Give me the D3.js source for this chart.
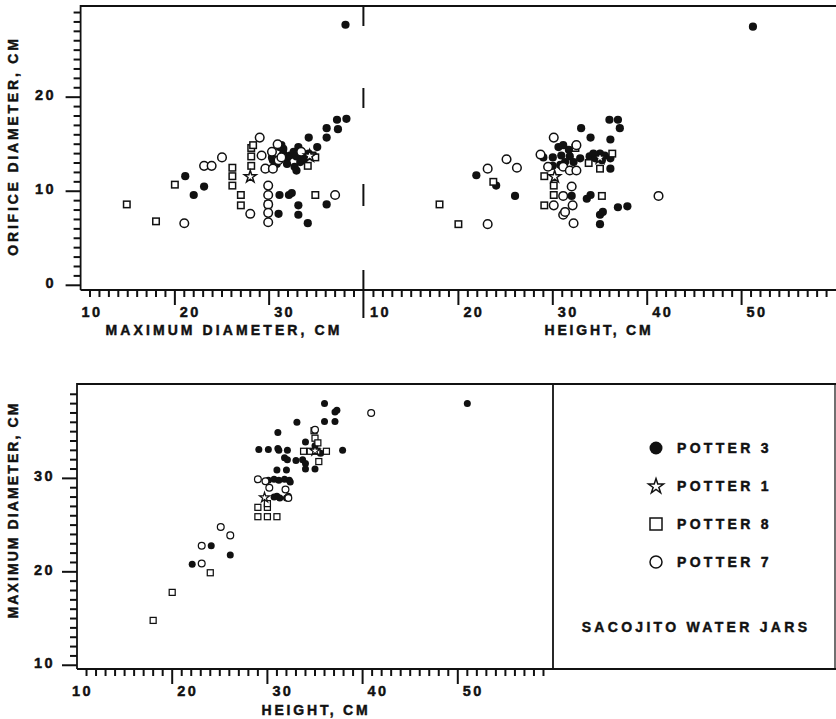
<!DOCTYPE html>
<html><head><meta charset="utf-8">
<script src="https://cdn.jsdelivr.net/npm/d3@7"></script>
<style>body{margin:0;background:#fff}</style>
</head><body><svg id="c" width="836" height="719"></svg>
<script>
// ---------------- DATA ----------------
const potters = ["POTTER 3", "POTTER 1", "POTTER 8", "POTTER 7"];
const chartTitle = "SACOJITO WATER JARS";
const xTitleTopLeft = "MAXIMUM DIAMETER, CM";
const xTitleTopRight = "HEIGHT, CM";
const yTitleTop = "ORIFICE DIAMETER, CM";
const xTitleBottom = "HEIGHT, CM";
const yTitleBottom = "MAXIMUM DIAMETER, CM";
const xTicksTopLeft = [10, 20, 30];
const xTicksTopRight = [10, 20, 30, 40, 50];
const yTicksTop = [0, 10, 20];
const xTicksBottom = [10, 20, 30, 40, 50];
const yTicksBottom = [10, 20, 30];

// Panel A: maximum diameter (x) vs orifice diameter (y)
const diamOrifice_P3 = [[38.1,27.7],[37.2,17.6],[38.2,17.7],[36.1,16.7],[37.3,16.6],[36.1,15.7],[34.2,15.7],[35.1,14.7],
 [30.4,13.3],[31.3,14.9],[31.5,14.0],[31.9,13.5],[32.2,13.8],[32.6,14.2],[32.9,13.7],[33.1,14.7],[33.3,13.1],[33.6,13.8],
 [33.8,13.5],[34.2,14.0],[34.5,13.7],[32.7,12.6],[32.9,12.2],[31.9,12.9],[30.8,12.9],[31.1,14.7],[31.5,14.5],[30.3,13.6],
 [21.1,11.6],[23.1,10.5],[22.0,9.6],[31.1,9.6],[32.1,9.6],[32.4,9.8],[33.1,8.5],[36.1,8.6],[31.0,7.6],[33.1,7.5],[34.1,6.6]];
const diamOrifice_P1 = [[28.0,11.6],[34.3,13.8]];
const diamOrifice_P8 = [[14.9,8.6],[18.0,6.8],[20.0,10.7],[26.1,12.5],[26.1,11.6],[26.1,10.6],[27.0,9.6],[27.0,8.5],
 [28.1,14.6],[28.3,14.9],[28.1,13.7],[28.1,12.7],[29.9,8.6],[34.9,9.6],[34.1,12.7],[34.6,13.8],[34.9,13.6]];
const diamOrifice_P7 = [[21.0,6.6],[23.1,12.7],[23.9,12.7],[25.0,13.6],[29.0,15.7],[28.0,7.6],[29.9,10.6],[29.9,9.6],
 [29.9,8.6],[29.9,7.7],[29.9,6.7],[37.0,9.6],[29.2,13.8],[30.3,14.2],[31.0,13.3],[29.6,12.4],[30.4,12.4],[30.9,15.0],
 [31.3,13.6],[33.4,14.2]];

// Panel B: height (x) vs orifice diameter (y)
const heightOrifice_P3 = [[51.2,27.5],[36.0,17.6],[36.9,17.6],[37.1,16.7],[33.0,16.7],[34.0,15.7],[36.1,15.5],[36.1,12.4],
 [29.0,13.6],[30.0,13.6],[30.6,14.7],[31.1,14.9],[31.7,14.4],[30.9,13.8],[31.8,13.7],[31.3,13.1],[32.2,13.1],[30.8,12.8],
 [32.9,13.5],[33.9,13.7],[34.5,13.5],[35.0,14.0],[35.5,13.8],[35.2,13.3],[36.1,13.5],[34.3,14.0],[30.0,12.7],
 [21.9,11.7],[24.0,10.6],[26.0,9.5],[32.0,9.5],[33.6,9.2],[34.0,9.6],[35.0,7.5],[35.3,7.8],[35.0,6.5],[36.9,8.3],[37.9,8.4]];
const heightOrifice_P1 = [[30.2,11.6],[35.0,13.6]];
const heightOrifice_P8 = [[18.0,8.6],[20.0,6.5],[23.7,11.0],[29.1,11.6],[30.1,10.6],[30.1,9.6],[29.1,8.5],[35.2,9.5],
 [36.3,14.0],[33.8,13.0],[35.0,12.4],[32.4,14.6]];
const heightOrifice_P7 = [[23.1,6.5],[23.1,12.4],[25.1,13.4],[26.2,12.5],[28.7,13.9],[30.1,15.7],[29.5,12.6],[31.1,12.6],
 [31.8,12.2],[32.5,12.2],[32.5,14.9],[32.0,10.5],[31.1,9.5],[30.1,8.5],[32.1,8.5],[31.1,7.5],[31.3,7.8],[32.2,6.6],[41.2,9.5]];

// Panel C: height (x) vs maximum diameter (y)
const heightDiam_P3 = [[51.0,38.0],[36.0,38.0],[37.1,37.1],[37.3,37.3],[36.0,36.1],[37.1,36.1],[33.1,36.0],[31.1,34.9],
 [29.1,33.1],[30.1,33.1],[31.1,33.2],[31.2,33.0],[32.1,33.0],[37.9,33.0],[34.0,33.9],
 [31.8,32.2],[32.1,32.0],[33.0,31.9],[33.7,32.0],[34.0,31.6],[34.0,31.0],[35.0,31.0],
 [31.0,30.9],[32.0,30.9],[30.1,29.8],[30.7,29.9],[31.2,29.8],[31.8,29.9],[32.3,29.8],[32.4,29.6],
 [31.0,28.1],[31.3,27.9],[32.0,27.9],[32.2,28.1],[30.7,28.0],
 [24.1,22.8],[22.1,20.8],[26.1,21.8],[35.0,33.5],[35.6,32.7]];
const heightDiam_P1 = [[29.7,28.0],[35.0,33.0]];
const heightDiam_P8 = [[18.0,14.8],[20.0,17.8],[24.0,19.9],[29.0,26.9],[30.0,26.9],[30.0,27.3],[29.0,25.9],[30.0,25.9],
 [31.0,25.9],[33.8,32.9],[34.5,32.9],[35.2,32.9],[36.2,32.9],[34.9,35.1],[35.0,34.3],[35.3,33.8],[35.4,31.8]];
const heightDiam_P7 = [[40.9,37.0],[35.0,35.2],[29.0,29.9],[29.8,29.7],[30.2,29.0],[31.9,28.8],[32.2,27.9],[25.1,24.8],
 [26.1,23.9],[23.1,22.8],[23.1,20.9]];

// ---------------- DRAWING ----------------
const svg = d3.select("#c");
const FONT = "'Liberation Sans', Arial, Helvetica, sans-serif";
const INK = "#111111";

const xL = d3.scaleLinear().domain([10, 40]).range([80.6, 363.4]);
const xR = d3.scaleLinear().domain([10, 60]).range([364, 836]);
const yT = d3.scaleLinear().domain([-0.5, 29.8]).range([290, 5]);
const xB = d3.scaleLinear().domain([10, 60]).range([77, 553]);
const yB = d3.scaleLinear().domain([9.6, 40.1]).range([669, 384]);

function rule(x1, y1, x2, y2, w) {
  svg.append("line").attr("x1", x1).attr("y1", y1).attr("x2", x2).attr("y2", y2)
    .attr("stroke", INK).attr("stroke-width", w || 1.8);
}

function boldText(sel, size, spacing) {
  return sel.attr("font-family", FONT).attr("font-weight", "bold").attr("font-size", size)
    .attr("letter-spacing", spacing + "px").attr("fill", INK)
    .attr("stroke", INK).attr("stroke-width", 0.45);
}

// ---- Frames
rule(80.6, 6, 836, 6, 1.8);
rule(80.6, 5, 80.6, 290, 1.8);
rule(80.6, 290, 836, 290, 1.8);
[[6, 26], [88, 108], [184, 206], [270, 318]].forEach(s => rule(xL(40), s[0], xL(40), s[1], 2));
rule(77, 384, 836, 384, 1.8);
rule(77, 383, 77, 669, 1.8);
rule(77, 669, 836, 669, 1.8);
rule(553, 384, 553, 669, 1.8);
rule(835, 384, 835, 669, 1.2);

// ---- Ticks (minor every 1 cm, major every 10 cm)
const TW = 2;
d3.range(11, 40).forEach(v => { const p = xL(v); rule(p, 290, p, 290 + (v % 10 === 0 ? 15 : 7), TW); });
d3.range(11, 60).forEach(v => { const p = xR(v); rule(p, 290, p, 290 + (v % 10 === 0 ? 15 : 7), TW); });
d3.range(0, 30).forEach(v => { const p = yT(v); rule(80.6, p, 80.6 - (v % 10 === 0 ? 15 : 7), p, TW); });
d3.range(11, 60).forEach(v => { const p = xB(v); rule(p, 669, p, 669 + (v % 10 === 0 ? 15 : 7), TW); });
d3.range(10, 40).forEach(v => { const p = yB(v); rule(77, p, 77 - (v % 10 === 0 ? 15 : 7), p, TW); });

// ---- Tick labels
function xLabels(scale, y, labels, firstDx) {
  boldText(svg.append("g").selectAll("text").data(labels).enter().append("text")
    .attr("x", d => scale(d) + (d === labels[0] ? firstDx : 5)).attr("y", y + 27)
    .text(d => d), 14.5, 2.4);
}
function yLabels(scale, labels, labelRight) {
  boldText(svg.append("g").selectAll("text").data(labels).enter().append("text")
    .attr("x", labelRight).attr("y", d => scale(d) + 3).attr("text-anchor", "end")
    .text(d => d), 14.5, 2.4);
}
xLabels(xL, 290, xTicksTopLeft, 1);
xLabels(xR, 290, xTicksTopRight, 6);
yLabels(yT, yTicksTop, 56);
xLabels(xB, 669, xTicksBottom, -5);
yLabels(yB, yTicksBottom, 55);

function title(txt, x, y, spacing, rotate) {
  const t = boldText(svg.append("text").text(txt), 14, spacing).attr("text-anchor", "middle");
  if (rotate) t.attr("transform", `translate(${x},${y}) rotate(-90)`);
  else t.attr("x", x).attr("y", y);
}
title(xTitleTopLeft, 224, 335, 3.1);
title(xTitleTopRight, 599, 335, 2.8);
title(yTitleTop, 18, 146, 2.8, true);
title(xTitleBottom, 316, 715, 2.8);
title(yTitleBottom, 18, 510, 2.1, true);

function points(data, xs, ys, type, s) {
  const g = svg.append("g");
  const sel = g.selectAll("x").data(data).enter();
  if (type === "filled") {
    sel.append("circle").attr("cx", d => xs(d[0])).attr("cy", d => ys(d[1])).attr("r", s.r)
      .attr("fill", INK);
  } else if (type === "open") {
    sel.append("circle").attr("cx", d => xs(d[0])).attr("cy", d => ys(d[1])).attr("r", s.ro)
      .attr("fill", "#fff").attr("stroke", INK).attr("stroke-width", s.sw);
  } else if (type === "square") {
    sel.append("rect").attr("x", d => xs(d[0]) - s.sq / 2).attr("y", d => ys(d[1]) - s.sq / 2)
      .attr("width", s.sq).attr("height", s.sq)
      .attr("fill", "#fff").attr("stroke", INK).attr("stroke-width", s.sw);
  } else {
    sel.append("path").attr("d", d3.symbol(d3.symbolStar, s.star)())
      .attr("transform", d => `translate(${xs(d[0])},${ys(d[1]) + 0.5})`)
      .attr("fill", "#fff").attr("stroke", INK).attr("stroke-width", s.sw);
  }
}

const sTop = {r: 4.1, ro: 4.3, sq: 6.5, sw: 1.5, star: 44};
points(diamOrifice_P3, xL, yT, "filled", sTop);
points(diamOrifice_P8, xL, yT, "square", sTop);
points(diamOrifice_P7, xL, yT, "open", sTop);
points(diamOrifice_P1, xL, yT, "star", sTop);

points(heightOrifice_P3, xR, yT, "filled", sTop);
points(heightOrifice_P8, xR, yT, "square", sTop);
points(heightOrifice_P7, xR, yT, "open", sTop);
points(heightOrifice_P1, xR, yT, "star", sTop);

const sBot = {r: 3.5, ro: 3.4, sq: 6, sw: 1.25, star: 30};
points(heightDiam_P3, xB, yB, "filled", sBot);
points(heightDiam_P8, xB, yB, "square", sBot);
points(heightDiam_P7, xB, yB, "open", sBot);
points(heightDiam_P1, xB, yB, "star", sBot);

// ---- Legend
const legY = d3.scalePoint().domain(potters).range([448, 562]);
const types = ["filled", "star", "square", "open"];
const sLeg = {r: 6.5, ro: 6, sq: 12, sw: 1.5, star: 70};
potters.forEach((p, i) => {
  points([[0, p]], () => 656, legY, types[i], sLeg);
  boldText(svg.append("text").text(p).attr("x", 677).attr("y", legY(p) + 5), 14, 3.3);
});
title(chartTitle, 696, 632, 3.3);
</script>
</body></html>
